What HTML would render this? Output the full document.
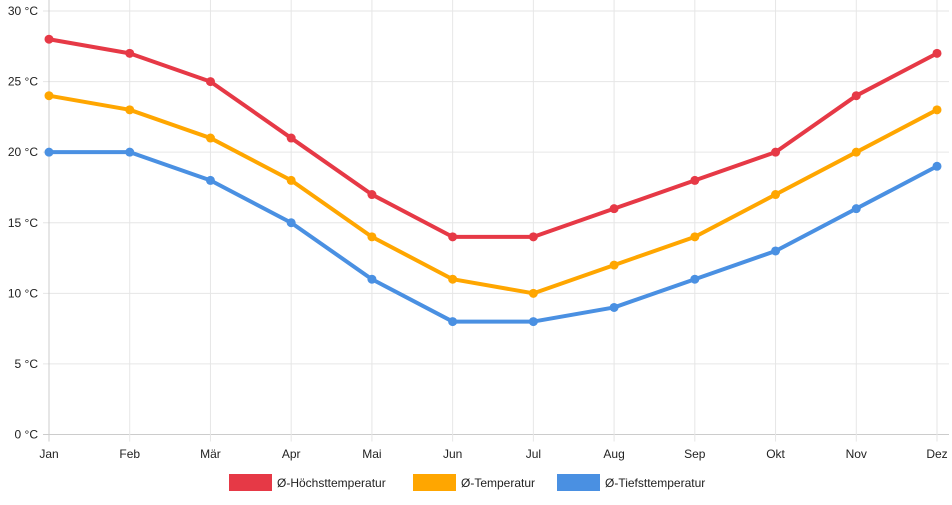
<!DOCTYPE html>
<html><head><meta charset="utf-8"><style>
body{margin:0;background:#fff;font-family:"Liberation Sans",sans-serif}
svg text{font-family:"Liberation Sans",sans-serif;font-size:12px;fill:#222}
</style></head><body>
<svg width="952" height="500" id="c"></svg>
<script>
const categories=["Jan","Feb","Mär","Apr","Mai","Jun","Jul","Aug","Sep","Okt","Nov","Dez"];
const highs=[28,27,25,21,17,14,14,16,18,20,24,27];
const means=[24,23,21,18,14,11,10,12,14,17,20,23];
const lows=[20,20,18,15,11,8,8,9,11,13,16,19];
const yTicks=[0,5,10,15,20,25,30];
const seriesNames=["Ø-Höchsttemperatur","Ø-Temperatur","Ø-Tiefsttemperatur"];
const colors=["#e63946","#ffa600","#4a90e2"];
const NS="http://www.w3.org/2000/svg";
const svg=document.getElementById('c');
const x0=49,x1=937,y0=434.5,yTop=11,yMax=30;
const xs=i=>x0+i*(x1-x0)/(categories.length-1);
const ys=v=>y0-v*(y0-yTop)/yMax;
function mk(t,a){const e=document.createElementNS(NS,t);for(const k in a)e.setAttribute(k,a[k]);svg.appendChild(e);return e;}
yTicks.forEach(v=>{
  const l=mk('line',{x1:x0-6,x2:x1+12,y1:ys(v),y2:ys(v),stroke:v===0?'#ccc':'#e6e6e6'});
  
  
  const t=mk('text',{x:38,y:ys(v)+4,'text-anchor':'end'});t.textContent=v+' °C';
  
  
});
categories.forEach((c,i)=>{
  const l=mk('line',{x1:xs(i),x2:xs(i),y1:yTop-11,y2:y0+7,stroke:i===0?'#ccc':'#e6e6e6'});
  
  
  const t=mk('text',{x:xs(i),y:458,'text-anchor':'middle'});t.textContent=c;
  
  
});
[highs,means,lows].forEach((d,s)=>{
  const p=mk('polyline',{points:d.map((v,i)=>xs(i)+','+ys(v)).join(' '),fill:'none',stroke:colors[s],'stroke-width':4,'stroke-linejoin':'round'});
  
  
  d.forEach((v,i)=>{
    const c=mk('circle',{cx:xs(i),cy:ys(v),r:4.5,fill:colors[s]});
    
    
  });
});
const lx=[229,413,557];
seriesNames.forEach((n,s)=>{
  const r=mk('rect',{x:lx[s],y:474,width:43,height:17,fill:colors[s]});
  
  
  const t=mk('text',{x:lx[s]+48,y:487});t.textContent=n;
  
  
});
</script>
</body></html>
